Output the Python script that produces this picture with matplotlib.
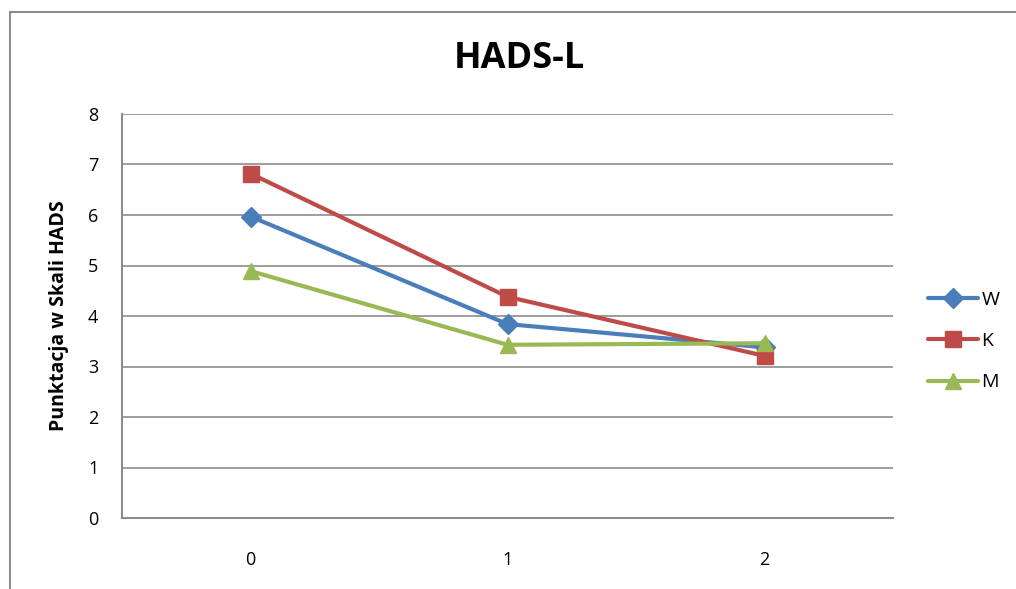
import matplotlib
matplotlib.use("Agg")
import matplotlib.pyplot as plt
from matplotlib.patches import Rectangle

categories = ["0", "1", "2"]
W = [5.97, 3.84, 3.38]
K = [6.82, 4.38, 3.21]
M = [4.89, 3.43, 3.46]
series_names = ["W", "K", "M"]
yticks = [0, 1, 2, 3, 4, 5, 6, 7, 8]

colors = ["#4A7EBB", "#BE4B48", "#98B954"]
markers = ["D", "s", "^"]
msizes = [10, 12, 12]

plt.rcParams['font.family'] = ['Open Sans', 'DejaVu Sans']

W_PX, H_PX = 1016, 589
fig = plt.figure(figsize=(W_PX / 100, H_PX / 100), dpi=100)

# outer chart border
fig.patches.append(Rectangle((10 / W_PX, -0.1), 1.2, 1 - 12 / H_PX + 0.1,
                             transform=fig.transFigure, fill=False,
                             edgecolor="#8c8c8c", linewidth=1.5))

left, right, top, bottom = 122, 893, 114, 518
ax = fig.add_axes([left / W_PX, 1 - bottom / H_PX,
                   (right - left) / W_PX, (bottom - top) / H_PX])

x = list(range(len(categories)))
for vals, c, m, ms, name in zip([W, K, M], colors, markers, msizes, series_names):
    ax.plot(x, vals, color=c, marker=m, markersize=ms, linewidth=3,
            label=name, zorder=3, solid_capstyle='round')

ax.set_xlim(-0.5, 2.5)
ax.set_ylim(0, 8)
ax.set_xticks(x)
ax.set_xticklabels(categories, fontsize=13)
ax.set_yticks(yticks)
ax.set_yticklabels([str(v) for v in yticks], fontsize=13)
ax.tick_params(length=0)
ax.tick_params(axis='y', pad=17)
ax.tick_params(axis='x', pad=24)
for yv in yticks:
    ax.axhline(yv, color="#8c8c8c", linewidth=1.2, zorder=1)
for s in ["top", "right"]:
    ax.spines[s].set_visible(False)
for s in ["left", "bottom"]:
    ax.spines[s].set_color("#8c8c8c")
    ax.spines[s].set_linewidth(1.5)

ax.set_ylabel("Punktacja w Skali HADS", fontsize=14, fontweight='bold', labelpad=14)
fig.text(519 / W_PX, 1 - 59 / H_PX, "HADS-L", fontsize=26, fontweight='bold',
         ha='center', va='center')

leg = ax.legend(loc='center left', bbox_to_anchor=(1.035, 0.438), frameon=False,
                fontsize=14, handlelength=2.6, handletextpad=0.15,
                labelspacing=1.2, borderaxespad=0)

fig.savefig("out.png", dpi=100)
